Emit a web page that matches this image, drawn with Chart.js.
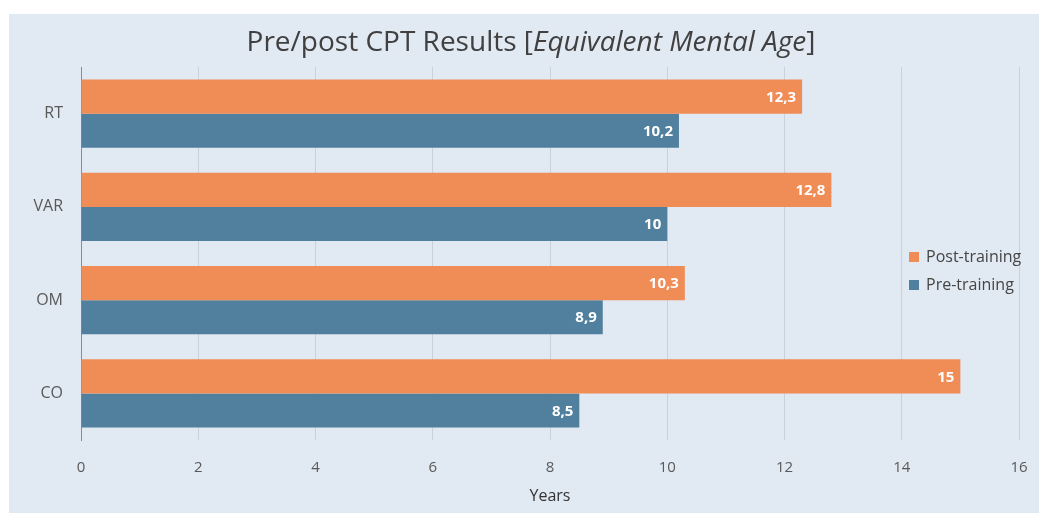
<!DOCTYPE html>
<html><head><meta charset="utf-8">
<script src="https://cdn.jsdelivr.net/npm/chart.js@4.4.1/dist/chart.umd.min.js"></script>
<style>html,body{margin:0;padding:0;background:#fff;overflow:hidden}#wrap{width:1039px;height:514px;position:relative}</style>
</head><body><div id="wrap"><canvas id="c" width="1039" height="514"></canvas></div>
<script>
const categories = ['RT', 'VAR', 'OM', 'CO'];
const postTraining = [12.3, 12.8, 10.3, 15];
const preTraining = [10.2, 10, 8.9, 8.5];
const seriesNames = ['Post-training', 'Pre-training'];
const xMin = 0, xMax = 16, xStep = 2;
const titleParts = ['Pre/post CPT Results [', 'Equivalent Mental Age', ']'];
const xTitle = 'Years';

const ORANGE = '#F08C56';
const BLUE = '#51809F';
const BG = '#E1E9F3';
const FONT = "'Open Sans', 'DejaVu Sans', sans-serif";

const panelPlugin = {
  id: 'panel',
  beforeDraw(chart) {
    const ctx = chart.ctx;
    ctx.save();
    ctx.fillStyle = '#ffffff';
    ctx.fillRect(0, 0, chart.width, chart.height);
    ctx.fillStyle = BG;
    ctx.fillRect(9, 14, chart.width - 9, 499);
    ctx.restore();
  }
};

const titlePlugin = {
  id: 'mixedTitle',
  afterDraw(chart) {
    const ctx = chart.ctx;
    ctx.save();
    const size = 28;
    const fonts = [`400 ${size}px ${FONT}`, `italic 400 ${size}px ${FONT}`, `400 ${size}px ${FONT}`];
    let widths = titleParts.map((t, i) => { ctx.font = fonts[i]; return ctx.measureText(t).width; });
    const total = widths.reduce((a, b) => a + b, 0);
    let x = 531 - total / 2;
    ctx.fillStyle = '#404040';
    ctx.textBaseline = 'middle';
    ctx.textAlign = 'left';
    titleParts.forEach((t, i) => { ctx.font = fonts[i]; ctx.fillText(t, x, 43); x += widths[i]; });
    ctx.restore();
  }
};

const valueLabelPlugin = {
  id: 'valueLabels',
  afterDatasetsDraw(chart) {
    const ctx = chart.ctx;
    ctx.save();
    ctx.font = `700 15px ${FONT}`;
    ctx.fillStyle = '#ffffff';
    ctx.textAlign = 'right';
    ctx.textBaseline = 'middle';
    chart.data.datasets.forEach((ds, di) => {
      const meta = chart.getDatasetMeta(di);
      meta.data.forEach((el, i) => {
        const txt = String(ds.data[i]).replace('.', ',');
        ctx.fillText(txt, el.x - 6, el.y + 1);
      });
    });
    ctx.restore();
  }
};

const legendPlugin = {
  id: 'customLegend',
  afterDraw(chart) {
    const ctx = chart.ctx;
    ctx.save();
    ctx.font = `400 16px ${FONT}`;
    ctx.textBaseline = 'middle';
    ctx.textAlign = 'left';
    chart.data.datasets.forEach((ds, i) => {
      const y = 257 + i * 28;
      ctx.fillStyle = ds.backgroundColor;
      ctx.fillRect(909, y - 5, 10, 10);
      ctx.fillStyle = '#454545';
      ctx.fillText(ds.label, 926, y);
    });
    ctx.restore();
  }
};

new Chart(document.getElementById('c'), {
  type: 'bar',
  data: {
    labels: categories,
    datasets: [
      { label: seriesNames[0], data: postTraining, backgroundColor: ORANGE },
      { label: seriesNames[1], data: preTraining, backgroundColor: BLUE }
    ]
  },
  options: {
    indexAxis: 'y',
    responsive: false,
    animation: false,
    devicePixelRatio: 1,
    categoryPercentage: 0.73,
    barPercentage: 1,
    layout: { padding: { top: 67, right: 20, bottom: 0, left: 0 } },
    plugins: { legend: { display: false }, title: { display: false }, tooltip: { enabled: false } },
    scales: {
      x: {
        min: xMin, max: xMax,
        ticks: { stepSize: xStep, color: '#595959', font: { family: FONT, size: 15 }, padding: 0 },
        grid: { color: '#C9D1DB', drawTicks: true, tickLength: 19, tickColor: 'rgba(0,0,0,0)' },
        border: { display: false },
        title: { display: true, text: xTitle, color: '#333333', font: { family: FONT, size: 16 }, padding: { top: 0, bottom: 8 } },
        afterFit(s) { s.height = 74; }
      },
      y: {
        ticks: { color: '#595959', font: { family: FONT, size: 16 }, padding: 18 },
        grid: { display: false, drawTicks: false },
        border: { display: true, color: '#8C8C8C', width: 1 },
        afterFit(s) { s.width = 81; }
      }
    }
  },
  plugins: [panelPlugin, titlePlugin, valueLabelPlugin, legendPlugin]
});
</script></body></html>
